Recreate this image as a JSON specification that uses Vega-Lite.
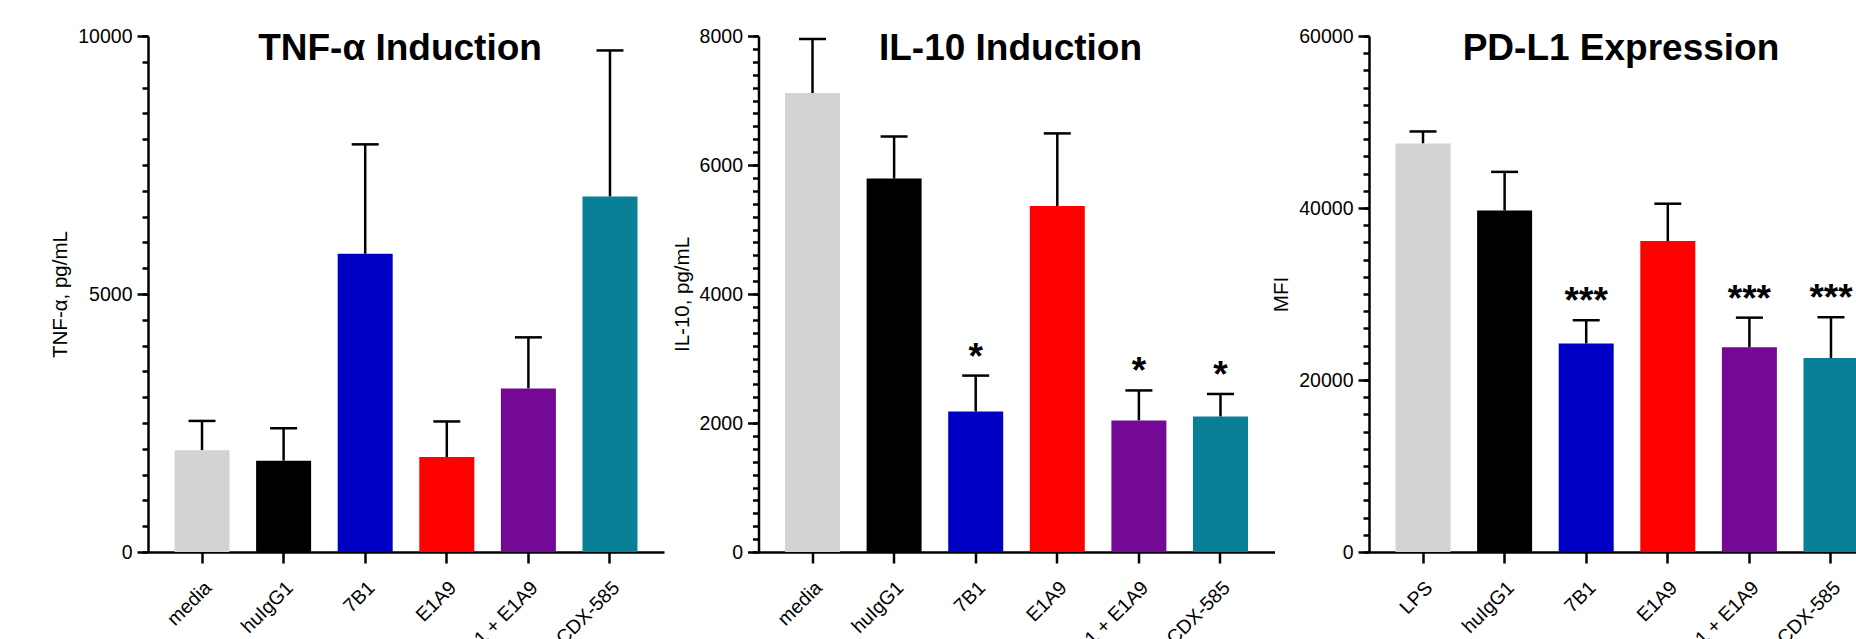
{
  "$schema": "https://vega.github.io/schema/vega-lite/v6.json",
  "padding": {"left": 50, "top": 26, "right": 0, "bottom": 0},
  "spacing": 94.5,
  "bounds": "flush",
  "config": {
    "font": "Liberation Sans",
    "view": {"stroke": null},
    "axis": {"grid": false, "domainColor": "#000", "domainWidth": 2.5, "tickColor": "#000", "tickWidth": 2.5, "labelColor": "#000", "labelFontSize": 19.5, "titleColor": "#000", "titleFontWeight": "normal", "titleFontSize": 20.5, "labelFont": "Liberation Sans", "titleFont": "Liberation Sans"},
    "title": {"fontSize": 37, "fontWeight": "bold", "color": "#000", "anchor": "middle", "frame": "group", "offset": -42, "dx": -6, "font": "Liberation Sans"}
  },
  "datasets": {
    "d": [
      {"assay": "TNF", "group": "media", "mean": 1970, "upper": 2540, "sig": ""},
      {"assay": "TNF", "group": "huIgG1", "mean": 1770, "upper": 2400, "sig": ""},
      {"assay": "TNF", "group": "7B1", "mean": 5780, "upper": 7900, "sig": ""},
      {"assay": "TNF", "group": "E1A9", "mean": 1840, "upper": 2530, "sig": ""},
      {"assay": "TNF", "group": "7B1 + E1A9", "mean": 3170, "upper": 4160, "sig": ""},
      {"assay": "TNF", "group": "CDX-585", "mean": 6890, "upper": 9720, "sig": ""},
      {"assay": "IL10", "group": "media", "mean": 7115, "upper": 7955, "sig": ""},
      {"assay": "IL10", "group": "huIgG1", "mean": 5790, "upper": 6440, "sig": ""},
      {"assay": "IL10", "group": "7B1", "mean": 2180, "upper": 2735, "sig": "*"},
      {"assay": "IL10", "group": "E1A9", "mean": 5365, "upper": 6490, "sig": ""},
      {"assay": "IL10", "group": "7B1 + E1A9", "mean": 2040, "upper": 2505, "sig": "*"},
      {"assay": "IL10", "group": "CDX-585", "mean": 2100, "upper": 2450, "sig": "*"},
      {"assay": "PDL1", "group": "LPS", "mean": 47500, "upper": 48900, "sig": ""},
      {"assay": "PDL1", "group": "huIgG1", "mean": 39700, "upper": 44200, "sig": ""},
      {"assay": "PDL1", "group": "7B1", "mean": 24250, "upper": 26950, "sig": "***"},
      {"assay": "PDL1", "group": "E1A9", "mean": 36150, "upper": 40500, "sig": ""},
      {"assay": "PDL1", "group": "7B1 + E1A9", "mean": 23800, "upper": 27250, "sig": "***"},
      {"assay": "PDL1", "group": "CDX-585", "mean": 22550, "upper": 27300, "sig": "***"}
    ]
  },
  "hconcat": [
    {
      "width": 516, "height": 516,
      "data": {"name": "d"},
      "transform": [{"filter": "datum.assay == 'TNF'"}],
      "title": {"text": "TNF-α Induction"},
      "encoding": {
        "x": {"field": "group", "type": "nominal", "sort": null,
              "scale": {"paddingInner": 0.326, "paddingOuter": 0.325},
              "axis": {"title": null, "labelAngle": -45, "tickSize": 11, "labelPadding": 15, "labelFontSize": 19.5}}
      },
      "layer": [
        {"mark": {"type": "rule", "color": "#000", "strokeWidth": 2.5},
         "encoding": {"y": {"field": "mean", "type": "quantitative", "scale": {"domain": [0, 10000], "nice": false},
                            "axis": {"orient": "left", "values": [0,500,1000,1500,2000,2500,3000,3500,4000,4500,5000,5500,6000,6500,7000,7500,8000,8500,9000,9500,10000], "labels": false, "domain": false, "tickSize": 6, "title": null}},
                      "y2": {"field": "upper"}}},
        {"mark": {"type": "tick", "color": "#000", "size": 27, "thickness": 2.5, "opacity": 1},
         "encoding": {"y": {"field": "upper", "type": "quantitative", "axis": null}}},
        {"mark": {"type": "bar"},
         "encoding": {"y": {"field": "mean", "type": "quantitative",
                            "axis": {"orient": "left", "values": [0, 5000, 10000], "format": "d", "tickSize": 11, "labelPadding": 5, "labelFontSize": 19.5, "title": "TNF-α, pg/mL", "titlePadding": 7}},
                      "color": {"field": "group", "type": "nominal", "legend": null,
                                "scale": {"domain": ["media", "LPS", "huIgG1", "7B1", "E1A9", "7B1 + E1A9", "CDX-585"],
                                          "range": ["#d3d3d3", "#d3d3d3", "#000000", "#0000c4", "#ff0000", "#740996", "#087f96"]}}}}
      ],
      "resolve": {"axis": {"y": "independent"}}
    },
    {
      "width": 516, "height": 516,
      "data": {"name": "d"},
      "transform": [{"filter": "datum.assay == 'IL10'"}],
      "title": {"text": "IL-10 Induction"},
      "encoding": {
        "x": {"field": "group", "type": "nominal", "sort": null,
              "scale": {"paddingInner": 0.326, "paddingOuter": 0.325},
              "axis": {"title": null, "labelAngle": -45, "tickSize": 11, "labelPadding": 15, "labelFontSize": 19.5}}
      },
      "layer": [
        {"mark": {"type": "rule", "color": "#000", "strokeWidth": 2.5},
         "encoding": {"y": {"field": "mean", "type": "quantitative", "scale": {"domain": [0, 8000], "nice": false},
                            "axis": {"orient": "left", "values": [0,200,400,600,800,1000,1200,1400,1600,1800,2000,2200,2400,2600,2800,3000,3200,3400,3600,3800,4000,4200,4400,4600,4800,5000,5200,5400,5600,5800,6000,6200,6400,6600,6800,7000,7200,7400,7600,7800,8000], "labels": false, "domain": false, "tickSize": 6, "title": null}},
                      "y2": {"field": "upper"}}},
        {"mark": {"type": "tick", "color": "#000", "size": 27, "thickness": 2.5, "opacity": 1},
         "encoding": {"y": {"field": "upper", "type": "quantitative", "axis": null}}},
        {"mark": {"type": "bar"},
         "encoding": {"y": {"field": "mean", "type": "quantitative",
                            "axis": {"orient": "left", "values": [0, 2000, 4000, 6000, 8000], "format": "d", "tickSize": 11, "labelPadding": 5, "labelFontSize": 19.5, "title": "IL-10, pg/mL", "titlePadding": 7}},
                      "color": {"field": "group", "type": "nominal", "legend": null,
                                "scale": {"domain": ["media", "LPS", "huIgG1", "7B1", "E1A9", "7B1 + E1A9", "CDX-585"],
                                          "range": ["#d3d3d3", "#d3d3d3", "#000000", "#0000c4", "#ff0000", "#740996", "#087f96"]}}}},
        {"mark": {"type": "text", "fontSize": 37, "fontWeight": "bold", "color": "#000", "baseline": "alphabetic", "dy": -7},
         "transform": [{"filter": "datum.sig != ''"}],
         "encoding": {"y": {"field": "upper", "type": "quantitative", "axis": null}, "text": {"field": "sig"}}}
      ],
      "resolve": {"axis": {"y": "independent"}}
    },
    {
      "width": 516, "height": 516,
      "data": {"name": "d"},
      "transform": [{"filter": "datum.assay == 'PDL1'"}],
      "title": {"text": "PD-L1 Expression"},
      "encoding": {
        "x": {"field": "group", "type": "nominal", "sort": null,
              "scale": {"paddingInner": 0.326, "paddingOuter": 0.325},
              "axis": {"title": null, "labelAngle": -45, "tickSize": 11, "labelPadding": 15, "labelFontSize": 19.5}}
      },
      "layer": [
        {"mark": {"type": "rule", "color": "#000", "strokeWidth": 2.5},
         "encoding": {"y": {"field": "mean", "type": "quantitative", "scale": {"domain": [0, 60000], "nice": false},
                            "axis": {"orient": "left", "values": [0,2000,4000,6000,8000,10000,12000,14000,16000,18000,20000,22000,24000,26000,28000,30000,32000,34000,36000,38000,40000,42000,44000,46000,48000,50000,52000,54000,56000,58000,60000], "labels": false, "domain": false, "tickSize": 6, "title": null}},
                      "y2": {"field": "upper"}}},
        {"mark": {"type": "tick", "color": "#000", "size": 27, "thickness": 2.5, "opacity": 1},
         "encoding": {"y": {"field": "upper", "type": "quantitative", "axis": null}}},
        {"mark": {"type": "bar"},
         "encoding": {"y": {"field": "mean", "type": "quantitative",
                            "axis": {"orient": "left", "values": [0, 20000, 40000, 60000], "format": "d", "tickSize": 11, "labelPadding": 5, "labelFontSize": 19.5, "title": "MFI", "titlePadding": 7}},
                      "color": {"field": "group", "type": "nominal", "legend": null,
                                "scale": {"domain": ["media", "LPS", "huIgG1", "7B1", "E1A9", "7B1 + E1A9", "CDX-585"],
                                          "range": ["#d3d3d3", "#d3d3d3", "#000000", "#0000c4", "#ff0000", "#740996", "#087f96"]}}}},
        {"mark": {"type": "text", "fontSize": 37, "fontWeight": "bold", "color": "#000", "baseline": "alphabetic", "dy": -7},
         "transform": [{"filter": "datum.sig != ''"}],
         "encoding": {"y": {"field": "upper", "type": "quantitative", "axis": null}, "text": {"field": "sig"}}}
      ],
      "resolve": {"axis": {"y": "independent"}}
    }
  ]
}
